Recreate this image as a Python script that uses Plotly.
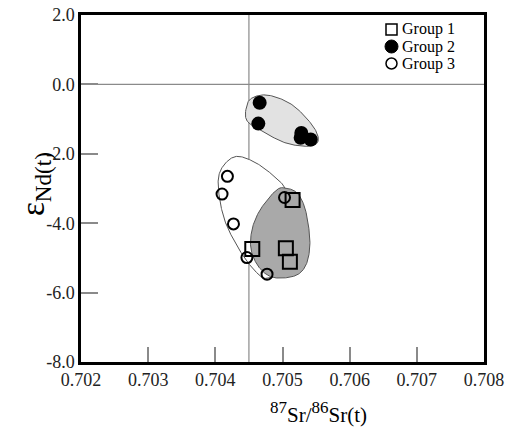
import numpy as np
import plotly.graph_objects as go

# ---------------- data ----------------
g1_sr = [0.70515, 0.70455, 0.70505, 0.70511]
g1_nd = [-3.33, -4.74, -4.72, -5.11]
g2_sr = [0.70466, 0.70464, 0.70528, 0.70527, 0.70542]
g2_nd = [-0.53, -1.13, -1.40, -1.54, -1.59]
g3_sr = [0.70418, 0.70410, 0.70427, 0.70447, 0.70477, 0.70503]
g3_nd = [-2.65, -3.16, -4.02, -4.99, -5.47, -3.26]

# field outlines (vertices, data units)
g2_field_sr = [0.704455, 0.704530, 0.704783, 0.705140, 0.705438, 0.705534,
               0.705408, 0.705036, 0.704634, 0.704470]
g2_field_nd = [-0.727, -0.410, -0.309, -0.583, -1.160, -1.593,
               -1.781, -1.680, -1.276, -1.045]
g3_field_sr = [0.704317, 0.704560, 0.704813, 0.705036, 0.705199, 0.705155,
               0.704961, 0.704753, 0.704619, 0.704455, 0.704307, 0.704158,
               0.704068, 0.704046, 0.704143]
g3_field_nd = [-2.075, -2.214, -2.545, -2.978, -3.758, -4.768,
               -5.403, -5.590, -5.431, -5.056, -4.595, -4.017,
               -3.354, -2.690, -2.286]
g1_field_sr = [0.705006, 0.705199, 0.705318, 0.705385, 0.705408, 0.705363,
               0.705244, 0.705036, 0.704813, 0.704634, 0.704530, 0.704545,
               0.704649, 0.704813, 0.704917]
g1_field_nd = [-2.978, -3.094, -3.469, -4.046, -4.623, -5.143,
               -5.460, -5.576, -5.532, -5.229, -4.739, -4.190,
               -3.671, -3.238, -3.036]

sr_ref = 0.7045
nd_ref = 0.0

x_ticks = [0.702, 0.703, 0.704, 0.705, 0.706, 0.707, 0.708]
x_ticklabels = ["0.702", "0.703", "0.704", "0.705", "0.706", "0.707", "0.708"]
y_ticks = [2, 0, -2, -4, -6, -8]
y_ticklabels = ["2.0", "0.0", "-2.0", "-4.0", "-6.0", "-8.0"]
legend_labels = ["Group 1", "Group 2", "Group 3"]

# ---------------- helpers ----------------
W, H = 507, 430
ML, MR, MT, MB = 81, 23, 15, 68
PW, PH = W - ML - MR, H - MT - MB


def px_x(px):
    return (px - ML) / PW


def px_y(py):
    return (H - MB - py) / PH


def closed_spline(xs, ys, n=24):
    P = np.column_stack([xs, ys]).astype(float)
    N = len(P)
    t = np.linspace(0, 1, n, endpoint=False)[:, None]
    out = []
    for i in range(N):
        p0, p1, p2, p3 = P[(i - 1) % N], P[i], P[(i + 1) % N], P[(i + 2) % N]
        pts = 0.5 * (2 * p1 + (-p0 + p2) * t + (2 * p0 - 5 * p1 + 4 * p2 - p3) * t ** 2
                     + (-p0 + 3 * p1 - 3 * p2 + p3) * t ** 3)
        out.append(pts)
    out = np.vstack(out + [P[:1]])
    return out[:, 0], out[:, 1]


SERIF = "Liberation Serif, Times New Roman, serif"
fig = go.Figure()

# fields
fx, fy = closed_spline(g3_field_sr, g3_field_nd)
fig.add_trace(go.Scatter(x=fx, y=fy, mode="lines", fill="toself", fillcolor="white",
                         line=dict(color="#555555", width=1), hoverinfo="skip", showlegend=False))
fx, fy = closed_spline(g1_field_sr, g1_field_nd)
fig.add_trace(go.Scatter(x=fx, y=fy, mode="lines", fill="toself", fillcolor="#a9a9a9",
                         line=dict(color="#555555", width=1), hoverinfo="skip", showlegend=False))
fx, fy = closed_spline(g2_field_sr, g2_field_nd)
fig.add_trace(go.Scatter(x=fx, y=fy, mode="lines", fill="toself", fillcolor="#e2e2e2",
                         line=dict(color="#555555", width=1), hoverinfo="skip", showlegend=False))

# points
fig.add_trace(go.Scatter(x=g3_sr, y=g3_nd, mode="markers", name=legend_labels[2],
                         marker=dict(symbol="circle-open", size=11, color="black",
                                     line=dict(width=2, color="black")), showlegend=False))
fig.add_trace(go.Scatter(x=g1_sr, y=g1_nd, mode="markers", name=legend_labels[0],
                         marker=dict(symbol="square-open", size=14, color="black",
                                     line=dict(width=2, color="black")), showlegend=False))
fig.add_trace(go.Scatter(x=g2_sr, y=g2_nd, mode="markers", name=legend_labels[1],
                         marker=dict(symbol="circle", size=14, color="black"), showlegend=False))

shapes = [
    dict(type="line", xref="paper", yref="y", x0=0, x1=1, y0=nd_ref, y1=nd_ref,
         line=dict(color="#8a8a8a", width=1.2), layer="below"),
    dict(type="line", xref="x", yref="paper", x0=sr_ref, x1=sr_ref, y0=0, y1=1,
         line=dict(color="#8a8a8a", width=1.2), layer="below"),
]

# manual legend
rows = [29.5, 46.5, 63.5]
cx = 391.5
shapes.append(dict(type="rect", xref="paper", yref="paper",
                   x0=px_x(cx - 5.5), x1=px_x(cx + 5.5), y0=px_y(rows[0] + 5.5), y1=px_y(rows[0] - 5.5),
                   line=dict(color="black", width=1.5), fillcolor="rgba(0,0,0,0)"))
shapes.append(dict(type="circle", xref="paper", yref="paper",
                   x0=px_x(cx - 6.5), x1=px_x(cx + 6.5), y0=px_y(rows[1] + 6.5), y1=px_y(rows[1] - 6.5),
                   line=dict(color="black", width=1), fillcolor="black"))
shapes.append(dict(type="circle", xref="paper", yref="paper",
                   x0=px_x(cx - 5.5), x1=px_x(cx + 5.5), y0=px_y(rows[2] + 5.5), y1=px_y(rows[2] - 5.5),
                   line=dict(color="black", width=1.5), fillcolor="rgba(0,0,0,0)"))

annotations = []
for lab, r in zip(legend_labels, rows):
    annotations.append(dict(text=lab, xref="paper", yref="paper", x=px_x(399.5), y=px_y(r),
                            xanchor="left", yanchor="middle", showarrow=False,
                            font=dict(family=SERIF, size=16, color="black")))

annotations.append(dict(text="ε<sub>Nd(t)</sub>", xref="paper", yref="paper",
                        x=px_x(35), y=px_y(184), textangle=-90, showarrow=False,
                        xanchor="center", yanchor="middle",
                        font=dict(family=SERIF, size=33, color="black")))
annotations.append(dict(text="<sup><span style='font-size:17px'>87</span></sup>Sr/"
                             "<sup><span style='font-size:17px'>86</span></sup>Sr(t)",
                        xref="paper", yref="paper",
                        x=px_x(318), y=px_y(413), showarrow=False,
                        xanchor="center", yanchor="middle",
                        font=dict(family=SERIF, size=21, color="black")))

axis_common = dict(showgrid=False, zeroline=False, showline=True, linecolor="black",
                   linewidth=2.5, mirror=True, ticks="inside", tickcolor="#8a8a8a",
                   tickwidth=1.5, automargin=False,
                   tickfont=dict(family=SERIF, size=18, color="#222222"))

fig.update_layout(
    width=W, height=H, margin=dict(l=ML, r=MR, t=MT, b=MB, autoexpand=False),
    paper_bgcolor="white", plot_bgcolor="white",
    xaxis=dict(range=[0.702, 0.708], tickvals=x_ticks, ticktext=x_ticklabels, ticklen=15,
               **axis_common),
    yaxis=dict(range=[-8, 2], tickvals=y_ticks, ticktext=y_ticklabels, ticklen=17,
               **axis_common),
    shapes=shapes, annotations=annotations, showlegend=False,
)

fig.write_html("out.html")
